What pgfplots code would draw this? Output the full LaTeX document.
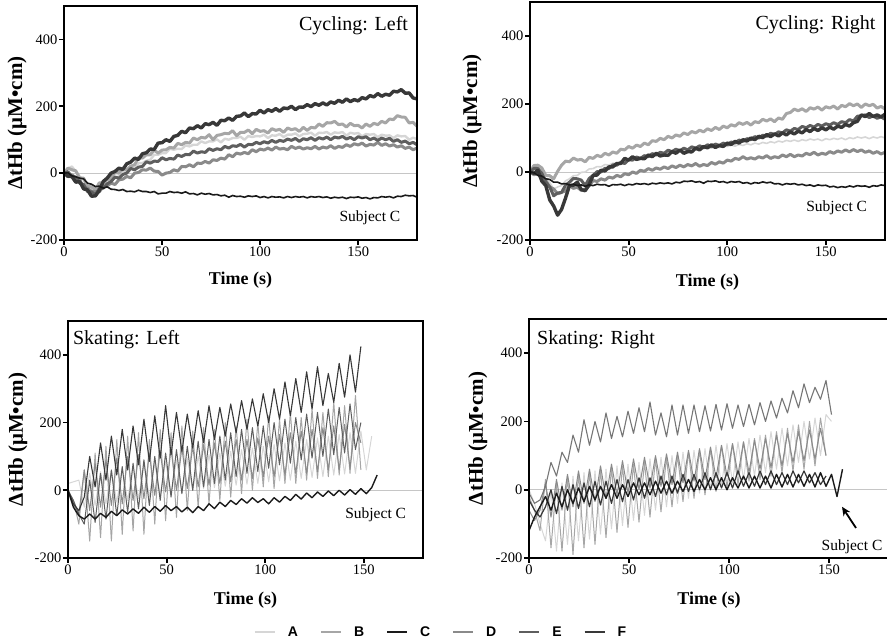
\documentclass[border=0pt]{standalone}
\usepackage{pgfplots}
\pgfplotsset{compat=1.18}
\usepackage{pgfplotstable}
\usetikzlibrary{arrows.meta}
\usepackage{fontspec}
\setmainfont{Liberation Serif}
\newfontfamily\legfont{Liberation Sans}

\definecolor{cA}{HTML}{D6D6D6}
\definecolor{cB}{HTML}{A6A6A6}
\definecolor{cC}{HTML}{1A1A1A}
\definecolor{cD}{HTML}{8A8A8A}
\definecolor{cE}{HTML}{5E5E5E}
\definecolor{cF}{HTML}{383838}
\tikzset{frm/.style={line width=2.6pt, black}}

% Cycling: Left
\pgfplotstableread{
t A B C D E F
0 0 0 0 0 0 0
2 13 15 1 -11 4 -9
4 20 10 -8 -5 -10 -10
6 5 7 -11 -14 -12 -27
8 -10 -15 -15 -20 -30 -25
10 -20 -15 -17 -44 -34 -47
12 -35 -40 -30 -45 -55 -50
14 -37 -41 -33 -54 -56 -69
16 -45 -50 -40 -55 -65 -68
18 -40 -29 -39 -56 -46 -52
20 -35 -30 -45 -40 -45 -25
22 -19 -19 -41 -38 -32 -15
24 -20 -15 -48 -30 -25 0
26 -13 2 -49 -34 -12 5
28 -10 0 -52 -20 -15 15
30 5 15 -49 -18 -4 11
32 5 10 -55 -10 0 28
34 13 21 -54 -14 14 33
36 15 25 -56 0 10 45
38 30 47 -51 2 18 41
40 30 45 -55 10 20 58
42 37 55 -55 9 34 61
44 40 55 -58 15 30 72
46 55 69 -55 6 36 71
48 55 60 -62 5 35 90
50 60 69 -60 -6 46 91
52 60 70 -60 0 40 100
54 73 77 -55 2 44 95
56 70 75 -58 10 42 110
58 73 89 -57 6 54 113
60 72 85 -60 20 50 125
62 83 92 -56 19 56 121
64 80 90 -62 25 55 135
66 85 105 -61 19 66 133
68 85 100 -65 30 60 142
70 95 107 -60 29 64 135
72 90 105 -63 35 62 148
74 95 115 -61 30 73 145
76 95 100 -65 40 68 152
78 101 113 -64 38 73 143
80 92 115 -68 45 70 158
82 103 119 -66 42 80 157
84 100 118 -72 55 75 165
86 105 127 -67 49 82 158
88 105 112 -70 60 80 170
90 109 122 -69 57 86 171
92 100 122 -72 62 78 180
94 111 129 -68 58 86 169
96 108 118 -70 70 85 178
98 111 131 -68 64 92 177
100 110 125 -73 72 88 188
102 115 127 -70 69 94 180
104 105 120 -74 75 90 190
106 113 133 -70 69 98 185
108 112 128 -72 78 92 193
110 117 131 -71 72 98 185
112 108 122 -74 74 95 195
114 115 135 -70 70 102 193
116 115 130 -73 80 98 200
118 119 133 -70 74 104 190
120 110 125 -72 78 95 198
122 117 137 -70 72 103 197
124 118 128 -74 76 100 205
126 121 137 -70 73 106 199
128 112 135 -72 80 98 208
130 121 147 -70 72 106 203
132 120 140 -73 78 102 210
134 123 151 -71 75 108 204
136 115 150 -75 82 100 213
138 122 155 -72 74 108 209
140 120 145 -74 80 105 218
142 123 147 -72 77 110 212
144 112 138 -76 85 102 222
146 121 149 -72 80 107 214
148 118 142 -73 88 100 220
150 120 143 -71 84 109 216
152 110 135 -75 90 105 226
154 117 147 -73 81 109 222
156 115 140 -77 86 100 232
158 117 149 -73 84 105 228
160 108 145 -74 92 98 238
162 115 155 -70 83 105 230
164 112 150 -72 88 100 236
166 113 162 -70 81 104 233
168 105 160 -74 85 95 245
170 113 172 -69 78 100 243
172 110 168 -70 82 92 250
174 111 167 -66 74 96 239
176 100 150 -68 78 88 240
178 106 152 -67 70 92 225
180 102 140 -72 75 85 222
}\cycL

% Cycling: Right
\pgfplotstableread{
t A B C D E F
0 0 0 0 0 0 0
2 9 19 -2 -8 11 -4
4 10 20 -10 -5 10 5
6 -1 12 -12 -21 -4 -27
8 -20 -10 -20 -25 -30 -40
10 -31 -11 -22 -44 -44 -82
12 -50 -20 -30 -50 -70 -100
14 -44 2 -30 -64 -62 -127
16 -40 20 -35 -60 -60 -110
18 -26 32 -34 -56 -39 -77
20 -20 30 -38 -40 -30 -40
22 -11 41 -36 -48 -19 -39
24 -10 35 -40 -45 -20 -30
26 -1 37 -38 -54 -24 -52
28 0 30 -42 -50 -40 -55
30 9 43 -38 -41 -19 -37
32 10 40 -40 -25 -10 -10
34 16 49 -36 -28 1 -9
36 15 45 -38 -20 0 5
38 22 55 -37 -24 11 3
40 20 50 -42 -15 10 15
42 26 59 -37 -18 21 15
44 25 55 -38 -10 20 25
46 32 67 -36 -14 28 25
48 30 65 -40 -5 25 40
50 36 75 -36 -8 36 35
52 35 70 -38 0 35 45
54 42 79 -34 -4 44 37
56 40 75 -36 5 40 40
58 46 85 -34 2 48 39
60 45 80 -37 10 45 50
62 52 92 -33 5 54 45
64 50 90 -35 12 50 55
66 55 99 -32 8 58 47
68 52 95 -34 15 55 50
70 58 105 -32 10 64 49
72 55 100 -35 18 60 60
74 62 109 -30 13 67 55
76 60 105 -32 20 62 65
78 65 115 -27 15 70 55
80 62 110 -28 22 65 60
82 68 119 -26 18 74 59
84 65 115 -30 25 70 70
86 70 123 -28 17 77 65
88 68 118 -33 22 72 75
90 73 127 -27 19 80 71
92 70 122 -28 28 75 80
94 75 131 -26 23 82 72
96 72 125 -30 30 78 78
98 78 135 -28 26 85 75
100 75 130 -32 35 80 85
102 79 139 -28 32 88 81
104 76 135 -30 40 85 90
106 81 145 -28 37 94 85
108 78 140 -33 45 90 95
110 83 146 -31 38 98 91
112 80 138 -35 42 95 100
114 85 148 -31 38 104 95
116 82 145 -33 45 100 105
118 87 155 -29 41 108 101
120 84 150 -32 48 105 110
122 89 156 -30 40 114 104
124 86 148 -35 45 110 112
126 91 159 -34 42 118 106
128 88 155 -38 50 115 115
130 93 172 -34 45 124 109
132 90 175 -36 52 120 118
134 94 185 -34 45 128 112
136 90 180 -38 50 125 120
138 95 186 -36 47 134 115
140 92 178 -40 55 130 125
142 97 189 -38 51 137 119
144 94 185 -42 58 132 128
146 97 191 -38 50 140 122
148 92 182 -40 55 135 130
150 98 192 -39 52 142 124
152 95 188 -44 60 138 132
154 99 194 -42 55 145 126
156 96 185 -46 62 140 135
158 100 196 -43 58 148 131
160 95 192 -45 65 145 140
162 101 201 -41 59 154 135
164 98 195 -44 66 150 145
166 103 200 -40 60 164 149
168 100 190 -42 65 165 168
170 103 200 -41 58 168 163
172 98 195 -45 62 160 172
174 103 199 -40 55 165 163
176 100 188 -42 60 158 168
178 104 193 -38 53 162 162
180 100 185 -40 58 155 170
}\cycR

% Skating: Left
\pgfplotstableread{
t A B C D E F
0 20 0 0 0 0 0
2.75 25 -30 -50 -40 -30 -40
5.5 30 -100 -75 -70 -70 -60
8.25 -50 60 -85 60 -100 -20
11 50 -150 -70 -60 30 100
13.75 -45 110 -85 80 -95 10
16.5 55 -140 -68 -50 50 140
19.25 -40 130 -80 90 -85 30
22 60 -150 -62 -45 60 160
24.75 -35 150 -75 95 -75 45
27.5 65 -130 -58 -40 70 180
30.25 -30 160 -70 100 -65 60
33 70 -120 -55 -30 80 190
35.75 -25 170 -68 105 -55 75
38.5 75 -130 -50 -25 90 210
41.25 -20 150 -65 110 -45 85
44 80 -100 -48 -15 100 220
46.75 -15 180 -62 115 -30 95
49.5 85 -90 -45 -5 110 250
52.25 -10 170 -60 120 -20 105
55 90 -80 -48 0 120 230
57.75 -5 190 -64 125 -10 115
60.5 95 -60 -50 5 130 225
63.25 0 175 -66 130 0 125
66 100 -50 -48 10 145 235
68.75 5 185 -60 135 10 140
71.5 105 -40 -40 15 150 250
74.25 8 180 -54 140 20 150
77 110 -30 -35 20 160 245
79.75 12 200 -48 145 30 160
82.5 115 -20 -30 25 170 255
85.25 15 190 -42 150 40 170
88 120 -10 -25 30 180 265
90.75 18 210 -38 150 50 180
93.5 125 0 -22 35 185 270
96.25 20 200 -36 155 55 190
99 130 10 -25 40 190 285
101.75 25 220 -40 160 65 200
104.5 135 5 -22 40 200 300
107.25 28 210 -35 165 75 210
110 140 20 -18 45 210 320
112.75 30 230 -30 170 80 220
115.5 145 20 -12 50 215 330
118.25 35 215 -26 175 90 230
121 150 30 -8 50 225 350
123.75 38 240 -22 180 95 240
126.5 155 35 -5 55 230 365
129.25 40 230 -18 185 100 250
132 160 40 -2 60 240 345
134.75 45 260 -16 190 105 260
137.5 165 45 0 60 245 375
140.25 48 250 -14 195 110 275
143 170 50 2 65 255 400
145.75 50 280 -12 200 120 290
148.5 175 60 5 140 200 425
151.25 60 nan -10 nan nan nan
154 160 nan 8 nan nan nan
156.75 nan nan 45 nan nan nan
}\skaL

% Skating: Right
\pgfplotstableread{
t A B C D E F
0 0 -20 -120 -60 -30 -10
2.75 -40 -60 -80 -90 -60 -40
5.5 -100 -120 -50 -60 -80 -30
8.25 -150 30 -20 20 -50 10
11 0 -170 -60 -80 0 80
13.75 -180 20 -10 30 -70 40
16.5 20 -180 -50 -60 10 110
19.25 -160 40 0 45 -60 80
22 40 -190 -40 -50 15 160
24.75 -150 50 5 55 -55 110
27.5 50 -170 -35 -40 20 205
30.25 -145 55 10 60 -50 130
33 55 -160 -30 -35 25 200
35.75 -130 60 10 70 -45 140
38.5 60 -140 -25 -25 25 225
41.25 -115 65 15 75 -40 150
44 70 -125 -25 -15 30 215
46.75 -105 70 15 85 -35 155
49.5 75 -110 -20 -10 30 230
52.25 -90 75 20 90 -30 165
55 80 -95 -15 0 35 240
57.75 -75 80 20 95 -25 170
60.5 90 -80 -15 5 35 257
63.25 -60 90 25 100 -20 160
66 95 -65 -10 10 40 225
68.75 -50 95 25 105 -15 155
71.5 100 -50 -10 15 40 248
74.25 -40 100 25 110 -10 160
77 110 -35 -5 20 45 248
79.75 -25 110 30 115 -5 165
82.5 115 -25 -5 25 45 248
85.25 -10 115 30 120 0 170
88 120 -15 0 30 50 246
90.75 0 120 35 125 0 172
93.5 130 -5 0 35 50 250
96.25 10 130 35 130 5 175
99 135 5 0 40 50 252
101.75 20 135 35 135 5 180
104.5 140 15 5 45 55 248
107.25 30 140 40 140 10 185
110 150 25 5 50 50 250
112.75 40 150 40 145 10 190
115.5 160 30 5 60 55 255
118.25 50 160 40 150 15 200
121 170 40 5 65 55 260
123.75 60 170 45 160 15 210
126.5 180 50 8 70 50 268
129.25 70 180 45 165 15 225
132 190 55 8 80 55 290
134.75 80 190 45 170 20 240
137.5 200 60 10 85 55 310
140.25 90 200 45 175 20 255
143 210 70 8 90 50 300
145.75 100 210 50 180 15 265
148.5 220 100 10 100 40 320
151.25 200 nan 45 nan nan 220
154 nan nan -20 nan nan nan
156.75 nan nan 60 nan nan nan
}\skaR

\pgfplotsset{
  panel/.style={
    scale only axis, anchor=south west, clip=false,
    xmin=0, xmax=180, ymin=-200, ymax=500,
    xtick={0,50,100,150}, ytick={-200,0,200,400},
    axis on top,
    axis line style={black},
    tick pos=left, tick align=outside,
    major tick length=5pt,
    major tick style={black, line width=1.8pt},
    ticklabel style={font=\fontsize{14.5}{15}\selectfont},
    yticklabel style={inner sep=1.5pt},
    xticklabel style={inner sep=2pt},
    /pgf/number format/assume math mode=true,
    xlabel={Time (s)}, ylabel={ΔtHb (μM•cm)},
    xlabel style={font=\bfseries\fontsize{18}{18}\selectfont, at={(axis description cs:0.5,-0.172)}, anchor=center},
    ylabel style={font=\bfseries\fontsize{21}{21}\selectfont, anchor=center},
  },
  cyc/.style={line width=3pt, line join=round},
  ska/.style={line width=1pt, line join=round},
}

\begin{document}
\begin{tikzpicture}
\useasboundingbox (0,0) rectangle (887pt,643pt);

% ---------- Cycling: Left ----------
\begin{axis}[panel, at={(64pt,403pt)}, width=353pt, height=234pt,
  ylabel style={at={(axis description cs:-0.133,0.5)}}]
\addplot[gray!45, line width=0.8pt, forget plot] coordinates {(0,0) (180,0)};
\addplot[cA, cyc, line width=2.4pt] table[x=t,y=A]{\cycL};
\addplot[cB, cyc] table[x=t,y=B]{\cycL};
\addplot[cD, cyc] table[x=t,y=D]{\cycL};
\addplot[cE, cyc] table[x=t,y=E]{\cycL};
\addplot[cF, cyc, line width=3.4pt] table[x=t,y=F]{\cycL};
\addplot[cC, line width=1.6pt] table[x=t,y=C]{\cycL};
\draw[frm] (rel axis cs:0,0) rectangle (rel axis cs:1,1);
\node[anchor=east, inner sep=0pt, font=\fontsize{20}{20}\selectfont] at (axis cs:175.5,442) {Cycling: Left};
\node[font=\fontsize{15.5}{16}\selectfont] at (axis cs:156,-134) {Subject C};
\end{axis}

% ---------- Cycling: Right ----------
\begin{axis}[panel, at={(530pt,403pt)}, width=355pt, height=238pt,
  ylabel style={at={(axis description cs:-0.163,0.5)}},
  xlabel style={at={(axis description cs:0.5,-0.176)}}]
\addplot[gray!45, line width=0.8pt, forget plot] coordinates {(0,0) (180,0)};
\addplot[cA, line width=1.6pt, line join=round] table[x=t,y=A]{\cycR};
\addplot[cB, cyc] table[x=t,y=B]{\cycR};
\addplot[cD, cyc] table[x=t,y=D]{\cycR};
\addplot[cE, cyc] table[x=t,y=E]{\cycR};
\addplot[cF, cyc, line width=3.4pt] table[x=t,y=F]{\cycR};
\addplot[cC, line width=1.6pt] table[x=t,y=C]{\cycR};
\draw[frm] (rel axis cs:0,0) rectangle (rel axis cs:1,1);
\node[anchor=east, inner sep=0pt, font=\fontsize{20}{20}\selectfont] at (axis cs:175.3,432) {Cycling: Right};
\node[font=\fontsize{15.5}{16}\selectfont] at (axis cs:155.5,-106) {Subject C};
\end{axis}

% ---------- Skating: Left ----------
\begin{axis}[panel, at={(68pt,85pt)}, width=355pt, height=237pt,
  ylabel style={at={(axis description cs:-0.141,0.5)}},
  xlabel style={at={(axis description cs:0.5,-0.177)}}]
\addplot[gray!45, line width=0.8pt, forget plot] coordinates {(0,0) (180,0)};
\addplot[cA, ska] table[x=t,y=A]{\skaL};
\addplot[cB, ska] table[x=t,y=B]{\skaL};
\addplot[cD, ska] table[x=t,y=D]{\skaL};
\addplot[cE, ska] table[x=t,y=E]{\skaL};
\addplot[cF, ska, line width=1.1pt] table[x=t,y=F]{\skaL};
\addplot[cC, ska, line width=1.4pt] table[x=t,y=C]{\skaL};
\draw[frm] (rel axis cs:0,0) rectangle (rel axis cs:1,1);
\node[anchor=west, inner sep=0pt, font=\fontsize{20}{20}\selectfont] at (axis cs:2.5,445) {Skating: Left};
\node[font=\fontsize{15.5}{16}\selectfont] at (axis cs:156,-72) {Subject C};
\end{axis}

% ---------- Skating: Right ----------
\begin{axis}[panel, at={(529pt,85pt)}, width=360pt, height=239pt,
  ylabel style={at={(axis description cs:-0.142,0.5)}},
  xlabel style={at={(axis description cs:0.5,-0.176)}},
  legend style={at={(axis description cs:-0.247,-0.31)}, anchor=center,
    draw=none, fill=none, inner sep=0pt, legend columns=6,
    font=\legfont\bfseries\fontsize{14}{14}\selectfont,
    nodes={inner sep=0pt},
    /tikz/every odd column/.append style={column sep=12pt},
    /tikz/every even column/.append style={column sep=22pt}},
  legend image code/.code={\draw[#1] (0pt,0pt) -- (20pt,0pt);},
  legend entries={A,B,C,D,E,F}]
\addlegendimage{cA, line width=2pt}
\addlegendimage{cB, line width=2pt}
\addlegendimage{cC, line width=2pt}
\addlegendimage{cD, line width=2pt}
\addlegendimage{cE, line width=2pt}
\addlegendimage{cF, line width=2pt}
\addplot[gray!45, line width=0.8pt, forget plot] coordinates {(0,0) (180,0)};
\addplot[cA, ska, forget plot] table[x=t,y=A]{\skaR};
\addplot[cB, ska, forget plot] table[x=t,y=B]{\skaR};
\addplot[cD, ska, forget plot] table[x=t,y=D]{\skaR};
\addplot[cF, ska, line width=1.2pt, forget plot] table[x=t,y=E]{\skaR};
\addplot[cE!85!white, ska, line width=1.1pt, forget plot] table[x=t,y=F]{\skaR};
\addplot[cC, ska, line width=1.4pt, forget plot] table[x=t,y=C]{\skaR};
\draw[frm] (rel axis cs:0,0) rectangle (rel axis cs:1,1);
\node[anchor=west, inner sep=0pt, font=\fontsize{20}{20}\selectfont] at (axis cs:4,438) {Skating: Right};
\node[font=\fontsize{15.5}{16}\selectfont] at (axis cs:161.5,-166) {Subject C};
\draw[-{Stealth[length=9pt,width=8pt]}, line width=1.8pt] (axis cs:163.5,-112) -- (axis cs:156.5,-50);
\end{axis}
\end{tikzpicture}
\end{document}
